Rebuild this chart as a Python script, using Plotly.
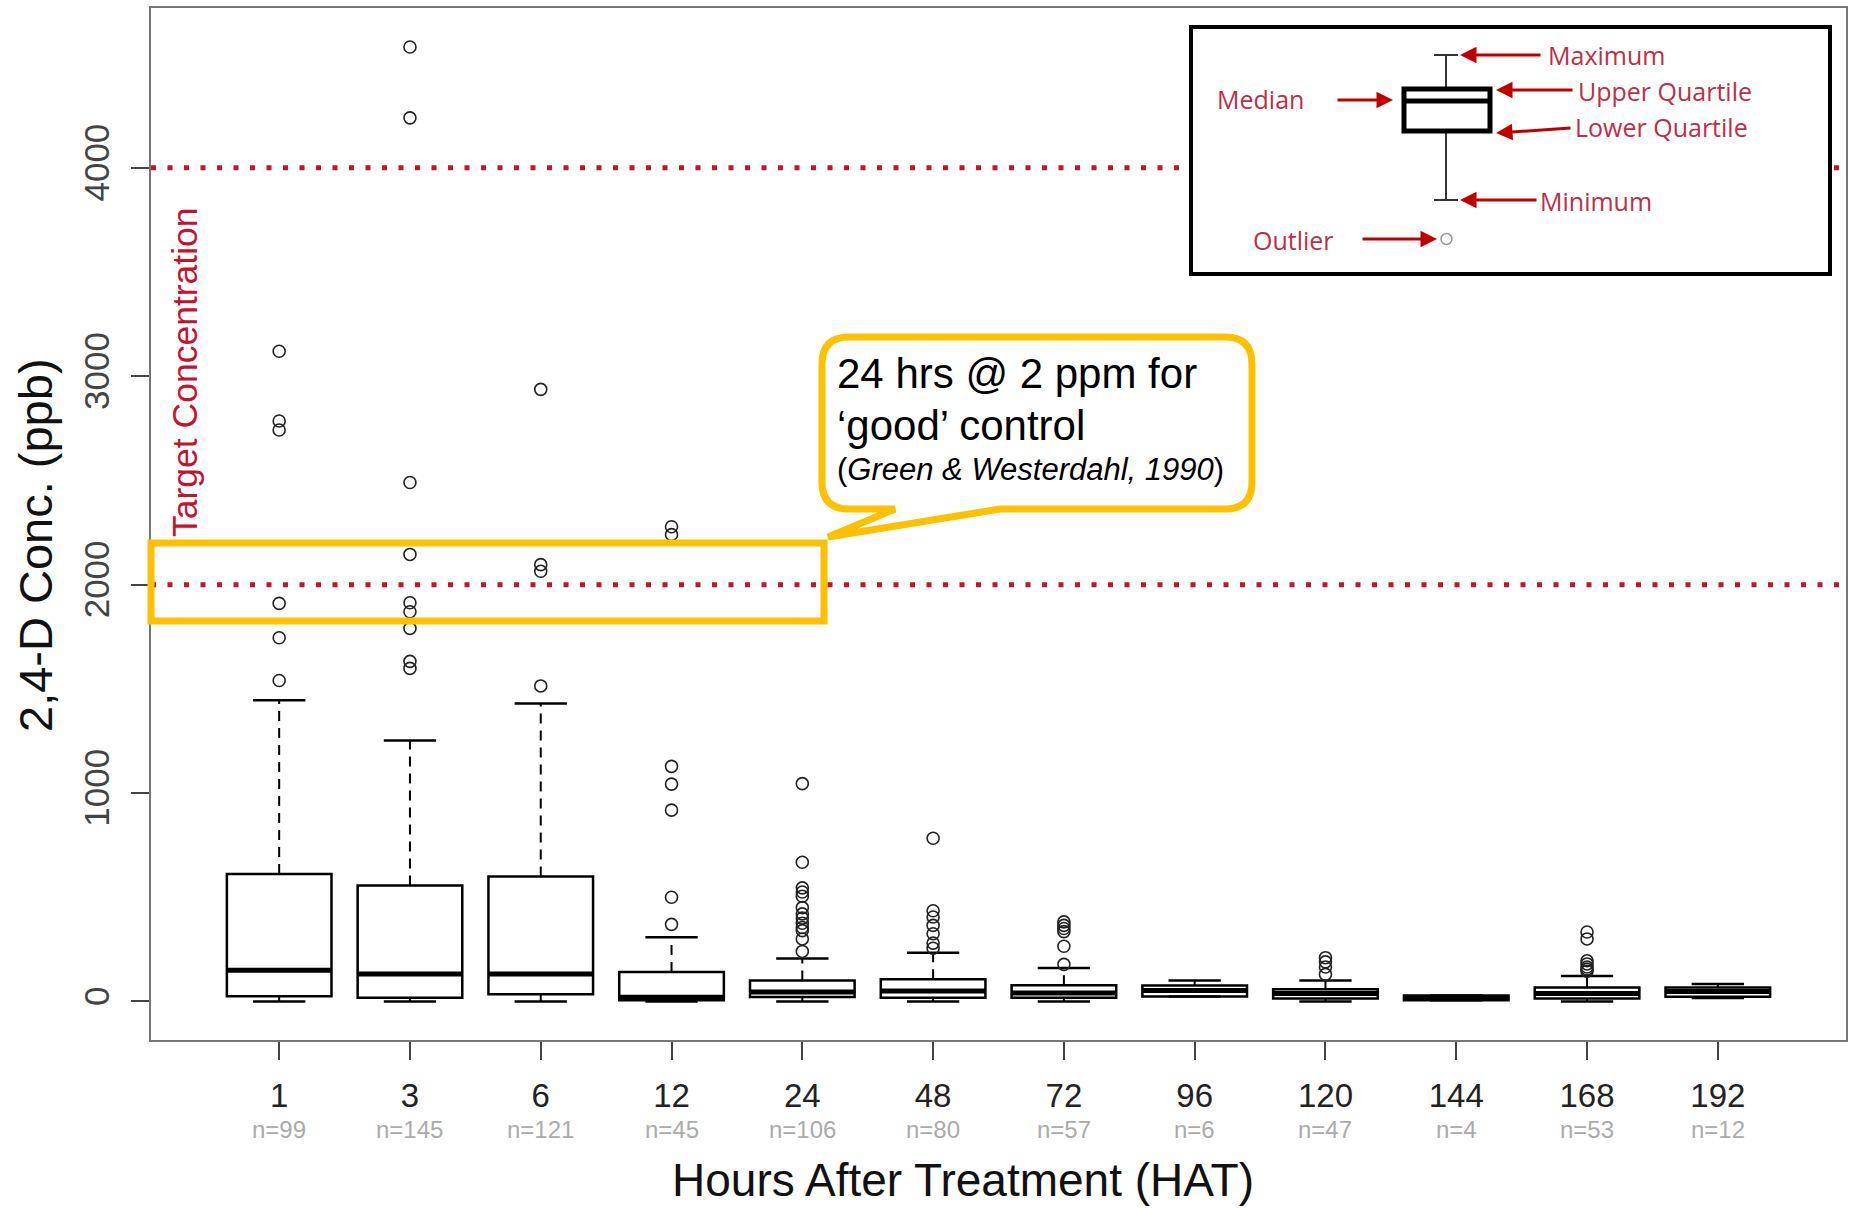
import plotly.graph_objects as go

# Sampling times (hours after treatment) and number of samples at each time
hours = [1, 3, 6, 12, 24, 48, 72, 96, 120, 144, 168, 192]
n_samples = [99, 145, 121, 45, 106, 80, 57, 6, 47, 4, 53, 12]

# Box statistics, 2,4-D concentration in ppb
q1 = [25, 18, 35, 6, 21, 18, 18, 24, 14, 6, 14, 22]
median = [150, 132, 132, 20, 45, 50, 40, 52, 38, 18, 38, 48]
q3 = [612, 556, 600, 141, 101, 107, 78, 77, 58, 28, 67, 67]
whisker_low = [0, 0, 0, 0, 0, 0, 0, 24, 0, 6, 0, 17]
whisker_high = [1445, 1252, 1430, 308, 206, 234, 160, 101, 101, 28, 122, 84]

# Outlying samples at each sampling time
outlier_values = [
    [3120, 2785, 2742, 1910, 1745, 1540],
    [4580, 4240, 2490, 2145, 1913, 1870, 1790, 1632, 1598],
    [2937, 2096, 2064, 1514],
    [2278, 2240, 1128, 1043, 918, 500, 370],
    [1045, 668, 545, 525, 505, 450, 420, 400, 375, 355, 340, 300, 240],
    [783, 435, 405, 365, 325, 280, 255],
    [382, 365, 350, 335, 265, 178],
    [],
    [210, 190, 165, 130],
    [],
    [333, 300, 195, 180, 165, 155, 145],
    [],
]

# Reference concentrations (ppb)
target_levels = [2000, 4000]
y_ticks = [0, 1000, 2000, 3000, 4000]

W, H = 1849, 1209
L, R, T, B = 151, 1846, 8, 1040   # plot area in pixels


def px(x):
    return (x - L) / (R - L)


def py(y):
    return (B - y) / (B - T)


pos = list(range(1, len(hours) + 1))
BOX_W = 0.8
CAP_W = 0.2

RED = "#C4122F"
LEG_RED = "#BE2E48"
YELLOW = "#FFC000"
NARROW = "Liberation Sans Narrow, Arial Narrow, Liberation Sans, Arial"
SANS = "Liberation Sans, Arial, sans-serif"

fig = go.Figure()

# Boxes (quartiles)
fig.add_trace(go.Box(
    x=pos, q1=q1, median=median, q3=q3,
    lowerfence=q1, upperfence=q3,
    width=BOX_W, whiskerwidth=0,
    fillcolor="white", line=dict(color="black", width=2.5),
    boxpoints=False, hoverinfo="skip", showlegend=False,
))

# Dashed whiskers
wx, wy = [], []
for p, lo, a, b, hi in zip(pos, whisker_low, q1, q3, whisker_high):
    wx += [p, p, None, p, p, None]
    wy += [b, hi, None, a, lo, None]
fig.add_trace(go.Scatter(x=wx, y=wy, mode="lines",
                         line=dict(color="black", width=2, dash="10px,7px"),
                         hoverinfo="skip", showlegend=False))

# Whisker staples
cx, cy = [], []
for p, lo, hi in zip(pos, whisker_low, whisker_high):
    cx += [p - CAP_W, p + CAP_W, None, p - CAP_W, p + CAP_W, None]
    cy += [hi, hi, None, lo, lo, None]
fig.add_trace(go.Scatter(x=cx, y=cy, mode="lines",
                         line=dict(color="black", width=2.5),
                         hoverinfo="skip", showlegend=False))

# Thick median bars
mx, my = [], []
for p, m in zip(pos, median):
    mx += [p - BOX_W / 2, p + BOX_W / 2, None]
    my += [m, m, None]
fig.add_trace(go.Scatter(x=mx, y=my, mode="lines",
                         line=dict(color="black", width=5),
                         hoverinfo="skip", showlegend=False))

# Outliers
ox, oy = [], []
for p, vals in zip(pos, outlier_values):
    ox += [p] * len(vals)
    oy += vals
fig.add_trace(go.Scatter(x=ox, y=oy, mode="markers",
                         marker=dict(symbol="circle-open", size=12,
                                     color="#222", line=dict(width=1.6)),
                         hoverinfo="skip", showlegend=False))

shapes = []
# Target concentration lines
for lvl in target_levels:
    shapes.append(dict(type="line", xref="paper", yref="y", x0=0, x1=1,
                       y0=lvl, y1=lvl, layer="above",
                       line=dict(color=RED, width=5, dash="5px,11.5px")))

# Highlight around the 2 ppm level
shapes.append(dict(type="rect", xref="paper", yref="paper",
                   x0=px(151), x1=px(824), y0=py(543), y1=py(621),
                   layer="above", line=dict(color=YELLOW, width=7)))

# Callout bubble
bl, br, bt, bb, rr = 822, 1252, 337, 509, 27
pts = [
    ("M", bl + rr, bt), ("L", br - rr, bt), ("Q", br, bt, br, bt + rr),
    ("L", br, bb - rr), ("Q", br, bb, br - rr, bb), ("L", 1000, bb),
    ("L", 828, 537), ("L", 895, bb), ("L", bl + rr, bb),
    ("Q", bl, bb, bl, bb - rr), ("L", bl, bt + rr), ("Q", bl, bt, bl + rr, bt),
]
path = ""
for seg in pts:
    if seg[0] == "Q":
        path += f"Q{px(seg[1]):.5f},{py(seg[2]):.5f} {px(seg[3]):.5f},{py(seg[4]):.5f} "
    else:
        path += f"{seg[0]}{px(seg[1]):.5f},{py(seg[2]):.5f} "
path += "Z"
shapes.append(dict(type="path", xref="paper", yref="paper", path=path,
                   layer="above", fillcolor="white",
                   line=dict(color=YELLOW, width=7)))

# Key box explaining the box plot
shapes.append(dict(type="rect", xref="paper", yref="paper",
                   x0=px(1191), x1=px(1830), y0=py(274), y1=py(27),
                   layer="above", fillcolor="white",
                   line=dict(color="black", width=4)))
kx = 1446
k_max, k_q3, k_med, k_q1, k_min, k_out = 55, 89, 101, 131, 200, 239
for y0, y1 in [(k_max, k_q3), (k_q1, k_min)]:
    shapes.append(dict(type="line", xref="paper", yref="paper",
                       x0=px(kx), x1=px(kx), y0=py(y0), y1=py(y1),
                       layer="above", line=dict(color="#333", width=2)))
for yy in [k_max, k_min]:
    shapes.append(dict(type="line", xref="paper", yref="paper",
                       x0=px(1434), x1=px(1458), y0=py(yy), y1=py(yy),
                       layer="above", line=dict(color="#333", width=2)))
shapes.append(dict(type="rect", xref="paper", yref="paper",
                   x0=px(1404), x1=px(1490), y0=py(k_q1), y1=py(k_q3),
                   layer="above", fillcolor="white",
                   line=dict(color="black", width=5)))
shapes.append(dict(type="line", xref="paper", yref="paper",
                   x0=px(1404), x1=px(1490), y0=py(k_med), y1=py(k_med),
                   layer="above", line=dict(color="black", width=5)))
shapes.append(dict(type="circle", xref="paper", yref="paper",
                   x0=px(1441), x1=px(1452), y0=py(k_out + 5.5), y1=py(k_out - 5.5),
                   layer="above", line=dict(color="#999", width=1.5)))

annotations = []

# Category labels with sample counts
for p, n in zip(pos, n_samples):
    annotations.append(dict(x=p, xref="x", y=py(1129), yref="paper",
                            text=f"n={n}", showarrow=False,
                            xanchor="center", yanchor="middle",
                            font=dict(family=NARROW, size=24, color="#ABABAB")))

# Axis titles
annotations.append(dict(x=px(963), y=py(1180), xref="paper", yref="paper",
                        text="Hours After Treatment (HAT)", showarrow=False,
                        xanchor="center", yanchor="middle",
                        font=dict(family=SANS, size=46, color="#111")))
annotations.append(dict(x=px(35), y=py(545), xref="paper", yref="paper",
                        text="2,4-D Conc. (ppb)", showarrow=False, textangle=-90,
                        xanchor="center", yanchor="middle",
                        font=dict(family=SANS, size=47, color="#111")))

# Target concentration label
annotations.append(dict(x=px(185), y=py(372), xref="paper", yref="paper",
                        text="Target Concentration", showarrow=False, textangle=-90,
                        xanchor="center", yanchor="middle",
                        font=dict(family=SANS, size=35.5, color=RED)))

# Callout text
annotations.append(dict(x=px(835), y=py(374), xref="paper", yref="paper",
                        text="24 hrs @ 2 ppm for", showarrow=False,
                        xanchor="left", yanchor="middle",
                        font=dict(family=SANS, size=42, color="black")))
annotations.append(dict(x=px(835), y=py(425), xref="paper", yref="paper",
                        text="\u2018good\u2019 control", showarrow=False,
                        xanchor="left", yanchor="middle",
                        font=dict(family=SANS, size=42, color="black")))
annotations.append(dict(x=px(835), y=py(469), xref="paper", yref="paper",
                        text="(<i>Green &amp; Westerdahl, 1990</i>)", showarrow=False,
                        xanchor="left", yanchor="middle",
                        font=dict(family=SANS, size=31, color="black")))

# Key labels
KEYF = dict(family="Open Sans, Noto Sans, sans-serif", size=25, color=LEG_RED)
for txt, x, y in [("Maximum", 1546, 55), ("Upper Quartile", 1576, 91),
                  ("Lower Quartile", 1573, 127), ("Minimum", 1538, 201),
                  ("Median", 1215, 99), ("Outlier", 1251, 240)]:
    annotations.append(dict(x=px(x), y=py(y), xref="paper", yref="paper",
                            text=txt, showarrow=False, xanchor="left",
                            yanchor="middle", font=KEYF))

# Key arrows: (tip x, tip y, tail x, tail y)
for tx, ty, sx, sy in [(1460, k_max, 1542, k_max), (1496, 90, 1574, 90),
                       (1496, 133, 1572, 128), (1460, k_min, 1538, k_min),
                       (1393, 100, 1336, 100), (1437, k_out, 1361, k_out)]:
    annotations.append(dict(x=px(tx), y=py(ty), xref="paper", yref="paper",
                            ax=sx - tx, ay=sy - ty, axref="pixel", ayref="pixel",
                            text="", showarrow=True, arrowhead=2, arrowsize=1.1,
                            arrowwidth=3, arrowcolor="#C00000", standoff=0))

fig.update_layout(
    width=W, height=H,
    margin=dict(l=L, r=W - R, t=T, b=H - B, autoexpand=False),
    paper_bgcolor="white", plot_bgcolor="white",
    showlegend=False,
    shapes=shapes, annotations=annotations,
    xaxis=dict(range=[0.02, 12.98], tickmode="array", tickvals=pos,
               ticktext=[str(h) for h in hours],
               ticks="outside", ticklen=18, tickwidth=2, tickcolor="#444",
               showline=True, linecolor="#777", linewidth=2, mirror=True,
               showgrid=False, zeroline=False, ticklabelstandoff=7,
               tickfont=dict(family=NARROW, size=33, color="#222")),
    yaxis=dict(range=[-185, 4767], tickmode="array", tickvals=y_ticks,
               ticks="outside", ticklen=18, tickwidth=2, tickcolor="#444",
               showline=True, linecolor="#777", linewidth=2, mirror=True,
               showgrid=False, zeroline=False, tickangle=-90,
               ticklabelstandoff=8,
               tickfont=dict(family=NARROW, size=35, color="#444")),
)

fig.write_html("out.html")
